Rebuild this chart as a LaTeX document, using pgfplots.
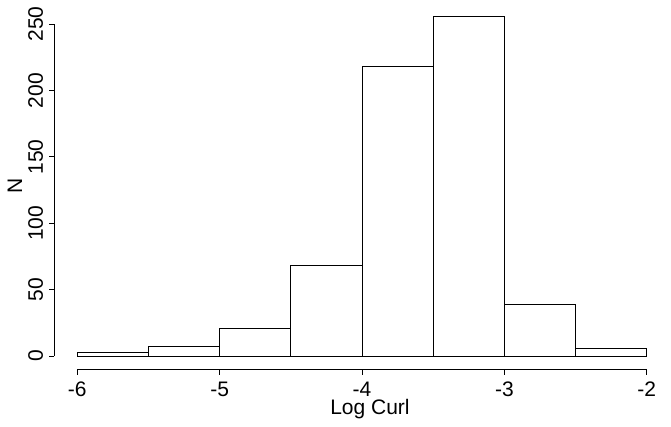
\documentclass[border=0pt]{standalone}
\usepackage{fontspec}
\setmainfont{Liberation Sans}
\usepackage{pgfplots}
\pgfplotsset{compat=1.18}
\begin{document}
\fontsize{21}{25}\selectfont
\begin{tikzpicture}
\begin{axis}[
  at={(0pt,0pt)}, anchor=south west,
  scale only axis, width=615pt, height=367pt,
  xmin=-6.16, xmax=-1.84, ymin=-10.24, ymax=266.24,
  axis line style={draw=none},
  xtick pos=bottom, ytick pos=left,
  tick align=outside, major tick length=5pt,
  tick style={black, line width=0.8pt},
  xtick={-6,-5,-4,-3,-2}, ytick={0,50,100,150,200,250},
  /pgf/number format/assume math mode=true,
  ticklabel style={font=\fontsize{21}{25}\selectfont},
  xticklabel style={anchor=base, inner sep=0pt, yshift=-21.4pt},
  yticklabel style={xshift=-6.5pt, rotate=90, anchor=base, inner sep=0pt},
  xlabel={Log Curl}, ylabel={N},
  label style={font=\fontsize{21}{25}\selectfont},
  xlabel style={at={(axis description cs:0.513,0)}, anchor=base, inner sep=0pt, yshift=-44.4pt},
  ylabel style={at={(axis description cs:-0.0528,0.5)}, anchor=base, inner sep=0pt, rotate=0},
  clip=false,
]
\addplot[ybar interval, fill=white, draw=black, line width=0.8pt] coordinates {
(-6,3) (-5.5,7) (-5,21) (-4.5,68) (-4,218) (-3.5,256) (-3,39) (-2.5,6) (-2,6)
};
\draw[line width=0.8pt] (axis cs:-6,-10.24) -- (axis cs:-2,-10.24);
\draw[line width=0.8pt] (axis cs:-6.16,0) -- (axis cs:-6.16,250);
\end{axis}
\pgfresetboundingbox
\path[use as bounding box] (-54.5pt,-56.4pt) rectangle (616.5pt,369.6pt);
\end{tikzpicture}
\end{document}
